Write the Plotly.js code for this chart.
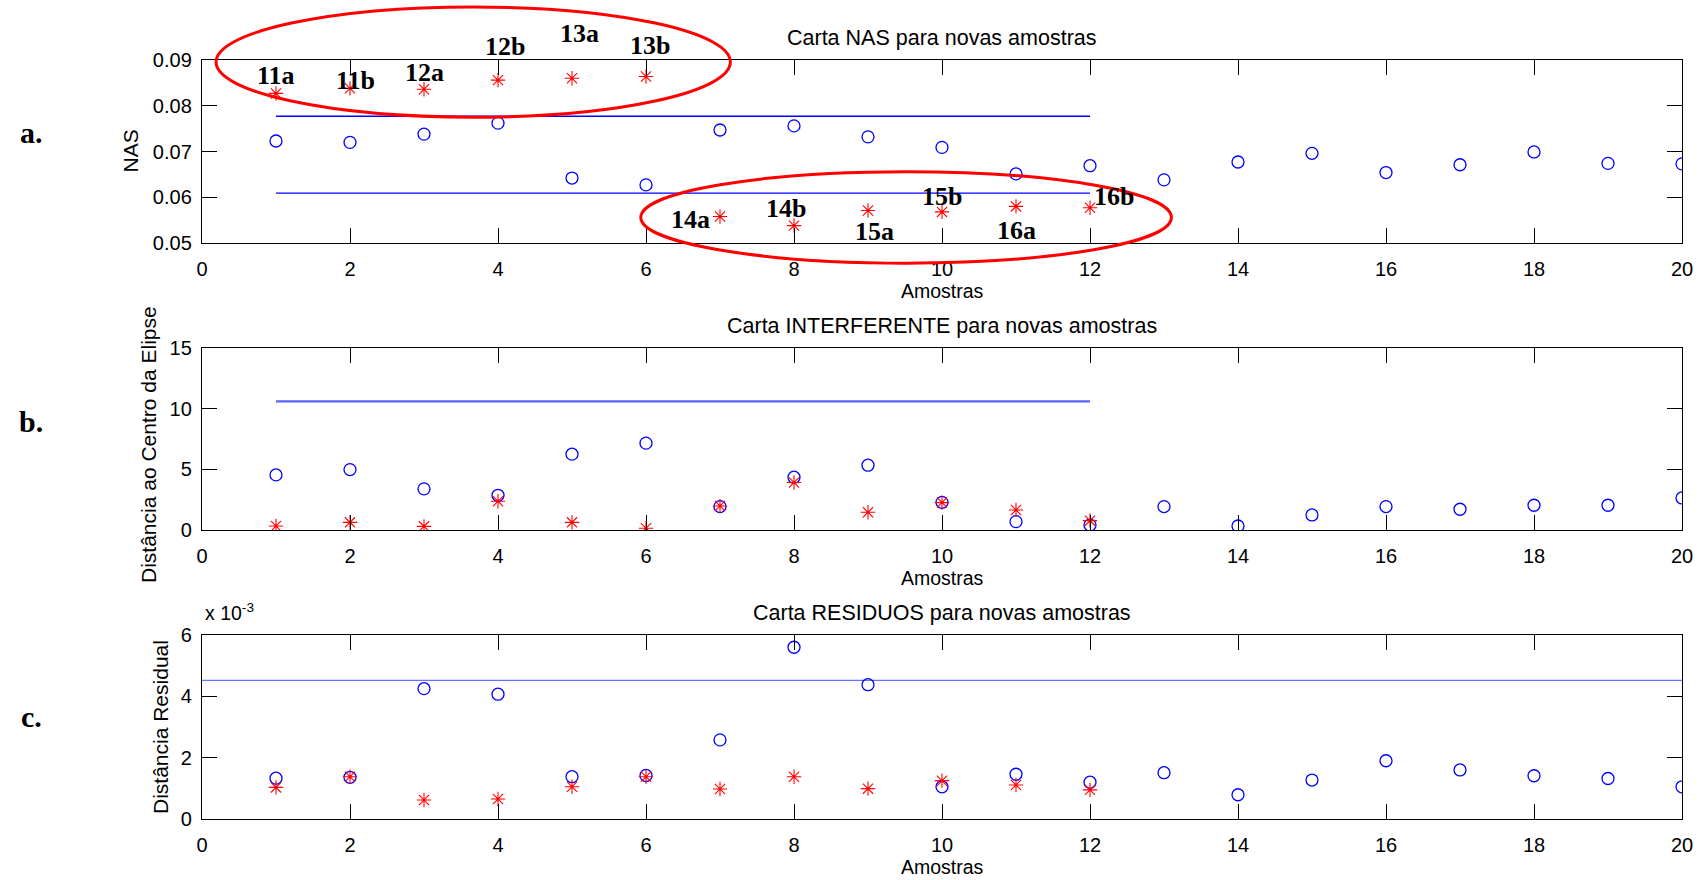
<!DOCTYPE html>
<html>
<head>
<meta charset="utf-8">
<script src="https://cdn.plot.ly/plotly-3.0.1.min.js"></script>
<style>
  html, body { margin: 0; padding: 0; background: #fff; }
  #chart { width: 1705px; height: 880px; }
</style>
</head>
<body>
<div id="chart"></div>
<script>
// ---- Data -------------------------------------------------------------
// sample numbers (Amostras)
const samples = [1, 2, 3, 4, 5, 6, 7, 8, 9, 10, 11, 12, 13, 14, 15, 16, 17, 18, 19, 20];
const newSamples = [1, 2, 3, 4, 5, 6, 7, 8, 9, 10, 11, 12];
const newSampleLabels = ['11a', '11b', '12a', '12b', '13a', '13b', '14a', '14b', '15a', '15b', '16a', '16b'];

// a. NAS chart
const nasCalibration = [0.0723, 0.0720, 0.0738, 0.0762, 0.0642, 0.0627, 0.0747, 0.0756, 0.0732, 0.0709,
                        0.0651, 0.0669, 0.0638, 0.0677, 0.0696, 0.0654, 0.0671, 0.0699, 0.0674, 0.0673];
const nasNew = [0.0827, 0.0838, 0.0836, 0.0856, 0.0860, 0.0864, 0.0558, 0.0538, 0.0571, 0.0568, 0.0580, 0.0577];
const nasUpperLimit = 0.0777;
const nasLowerLimit = 0.0609;
const nasLimitSpan = [1, 12];

// b. interferent chart (distance to the ellipse centre)
const intCalibration = [4.54, 4.98, 3.39, 2.86, 6.25, 7.16, 1.93, 4.35, 5.34, 2.28,
                        0.69, 0.41, 1.93, 0.33, 1.24, 1.93, 1.71, 2.04, 2.04, 2.64];
const intNew = [0.33, 0.63, 0.30, 2.37, 0.63, 0.15, 1.98, 3.91, 1.46, 2.26, 1.65, 0.77];
const intLimit = 10.6;
const intLimitSpan = [1, 12];

// c. residual chart
const resCalibration = [1.33e-3, 1.36e-3, 4.25e-3, 4.07e-3, 1.38e-3, 1.42e-3, 2.58e-3, 5.60e-3, 4.38e-3, 1.05e-3,
                        1.46e-3, 1.20e-3, 1.51e-3, 0.79e-3, 1.27e-3, 1.90e-3, 1.60e-3, 1.41e-3, 1.32e-3, 1.05e-3];
const resNew = [1.03e-3, 1.38e-3, 0.62e-3, 0.65e-3, 1.05e-3, 1.38e-3, 0.98e-3, 1.38e-3, 0.99e-3, 1.25e-3, 1.11e-3, 0.95e-3];
const resLimit = 4.52e-3;
const resLimitSpan = [0, 20];

// tick labels
const xTicks = [0, 2, 4, 6, 8, 10, 12, 14, 16, 18, 20];
const nasTicks = [0.05, 0.06, 0.07, 0.08, 0.09];
const intTicks = [0, 5, 10, 15];
const resTicks = [0, 0.002, 0.004, 0.006];
const resTickText = ['0', '2', '4', '6'];

// highlighted groups on the NAS chart (data-space bounds)
const nasGroups = [
  { x: [0.19, 7.14], y: [0.0775, 0.1016] },
  { x: [5.93, 13.1], y: [0.0456, 0.0656] }
];

// ---- Figure geometry --------------------------------------------------
const W = 1705, H = 880;
const px = v => v / W;
const py = v => 1 - v / H;
const plotLeft = 202, plotRight = 1682;
const panels = [
  { top: 60,  bottom: 243 },
  { top: 348, bottom: 530 },
  { top: 635, bottom: 819 }
];

const sansFont = 'Liberation Sans, Arial, Helvetica, sans-serif';
const serifFont = 'Liberation Serif, Times New Roman, serif';
const blue = 'rgb(0,0,255)';
const red = 'rgb(255,0,0)';

const circleMarker = { symbol: 'circle-open', size: 12, color: blue, line: { color: blue, width: 1.3 } };
const starMarker = { symbol: 'asterisk-open', size: 12, color: red, line: { color: red, width: 1.1 } };

function limitLine(span, value, xa, ya, color, width) {
  return {
    x: span, y: [value, value], xaxis: xa, yaxis: ya,
    mode: 'lines', line: { color: color, width: width },
    hoverinfo: 'skip', showlegend: false
  };
}

const traces = [
  // a.
  { x: samples, y: nasCalibration, xaxis: 'x', yaxis: 'y', mode: 'markers', marker: circleMarker, showlegend: false },
  { x: newSamples, y: nasNew, xaxis: 'x', yaxis: 'y', mode: 'markers', marker: starMarker, showlegend: false },
  limitLine(nasLimitSpan, nasUpperLimit, 'x', 'y', blue, 1.4),
  limitLine(nasLimitSpan, nasLowerLimit, 'x', 'y', blue, 1.4),
  // b.
  limitLine(intLimitSpan, intLimit, 'x2', 'y2', 'rgb(85,100,255)', 2.2),
  { x: samples, y: intCalibration, xaxis: 'x2', yaxis: 'y2', mode: 'markers', marker: circleMarker, showlegend: false },
  { x: newSamples, y: intNew, xaxis: 'x2', yaxis: 'y2', mode: 'markers', marker: starMarker, showlegend: false },
  // c.
  limitLine(resLimitSpan, resLimit, 'x3', 'y3', 'rgb(100,115,255)', 1.2),
  { x: samples, y: resCalibration, xaxis: 'x3', yaxis: 'y3', mode: 'markers', marker: circleMarker, showlegend: false },
  { x: newSamples, y: resNew, xaxis: 'x3', yaxis: 'y3', mode: 'markers', marker: starMarker, showlegend: false }
];

const axisStyle = {
  showline: true, linecolor: '#000', linewidth: 1.2, mirror: 'ticks',
  ticks: 'inside', ticklen: 15, tickwidth: 1, tickcolor: '#000',
  showgrid: false, zeroline: false, fixedrange: true,
  tickfont: { family: sansFont, size: 20, color: '#000' }
};

function xAxis(anchor) {
  return Object.assign({}, axisStyle, {
    domain: [px(plotLeft), px(plotRight)], anchor: anchor,
    range: [0, 20], tickvals: xTicks, ticklabelstandoff: 8
  });
}
function yAxis(anchor, panel, range, extra) {
  return Object.assign({}, axisStyle, {
    domain: [py(panel.bottom), py(panel.top)], anchor: anchor,
    range: range, ticklabelstandoff: 5
  }, extra);
}

const annotations = [];
function text(str, xPix, yPix, opts) {
  annotations.push(Object.assign({
    text: str, xref: 'paper', yref: 'paper', x: px(xPix), y: py(yPix),
    xanchor: 'center', yanchor: 'middle', showarrow: false,
    font: { family: sansFont, size: 20, color: '#000' }
  }, opts || {}));
}

const centerX = (plotLeft + plotRight) / 2;
const titles = ['Carta NAS para novas amostras', 'Carta INTERFERENTE para novas amostras', 'Carta RESIDUOS para novas amostras'];
const yTitles = ['NAS', 'Distância ao Centro da Elipse', 'Distância Residual'];
const yTitleX = [130, 148, 160];
const yTitleCenterShift = [0, 6, 0];
const panelTags = ['a.', 'b.', 'c.'];
const panelTagY = [132, 422, 716];

panels.forEach((p, i) => {
  text(titles[i], centerX, p.top - 22, { font: { family: sansFont, size: 21.5, color: '#000' } });
  text('Amostras', centerX, p.bottom + 48, { font: { family: sansFont, size: 19.5, color: '#000' } });
  text(yTitles[i], yTitleX[i], (p.top + p.bottom) / 2 + yTitleCenterShift[i],
       { textangle: -90, font: { family: sansFont, size: 21, color: '#000' } });
  text(panelTags[i], 31, panelTagY[i], { font: { family: serifFont, size: 30, color: '#000', weight: 'bold' } });
});

// exponent for the residual axis
text('x 10<sup>-3</sup>', 203, 612, { xanchor: 'left', font: { family: sansFont, size: 19.5, color: '#000' } });

// identifiers of the new samples, offset from their NAS points (px)
const labelOffsets = [[0, 18], [5, 8], [0, 17], [7, 34], [7, 45], [4, 31],
                      [-30, -3], [-8, 17], [6, -21], [0, 15], [0, -24], [24, 11]];
newSampleLabels.forEach((lab, i) => {
  annotations.push({
    text: lab, xref: 'x', yref: 'y', x: newSamples[i], y: nasNew[i],
    xshift: labelOffsets[i][0], yshift: labelOffsets[i][1],
    xanchor: 'center', yanchor: 'middle', showarrow: false,
    font: { family: serifFont, size: 26, color: '#000', weight: 'bold' }
  });
});

// red ellipses around the groups of new samples
const nasRange = [0.05, 0.09];
const shapes = nasGroups.map(g => ({
  type: 'circle', xref: 'x domain', yref: 'y domain',
  x0: g.x[0] / 20, x1: g.x[1] / 20,
  y0: (g.y[0] - nasRange[0]) / (nasRange[1] - nasRange[0]),
  y1: (g.y[1] - nasRange[0]) / (nasRange[1] - nasRange[0]),
  line: { color: red, width: 3 }, layer: 'above'
}));

const layout = {
  width: W, height: H,
  margin: { l: 0, r: 0, t: 0, b: 0 },
  paper_bgcolor: '#fff', plot_bgcolor: '#fff',
  showlegend: false, hovermode: false,
  xaxis: xAxis('y'),
  xaxis2: xAxis('y2'),
  xaxis3: xAxis('y3'),
  yaxis: yAxis('x', panels[0], nasRange, { tickvals: nasTicks, tickformat: '.2f' }),
  yaxis2: yAxis('x2', panels[1], [0, 15], { tickvals: intTicks }),
  yaxis3: yAxis('x3', panels[2], [0, 0.006], { tickvals: resTicks, ticktext: resTickText }),
  annotations: annotations,
  shapes: shapes
};

Plotly.newPlot('chart', traces, layout, { displayModeBar: false, staticPlot: true });
</script>
</body>
</html>
